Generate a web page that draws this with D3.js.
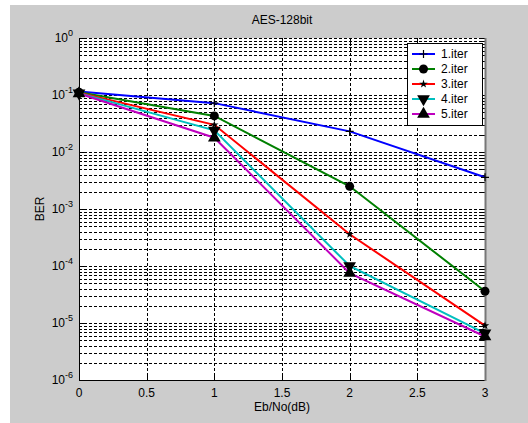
<!DOCTYPE html>
<html>
<head>
<meta charset="utf-8">
<script src="https://cdn.jsdelivr.net/npm/d3@7"></script>
<style>
  body { margin: 0; background: #fff; }
  text { font-family: Arial, "Liberation Sans", sans-serif; }
</style>
</head>
<body>
<div id="chart"></div>
<script>
const ebno = [0, 1, 2, 3];
const iter1 = [0.115, 0.072, 0.023, 0.0036];
const iter2 = [0.112, 0.043, 0.0025, 0.000036];
const iter3 = [0.11, 0.03, 0.00036, 0.000009];
const iter4 = [0.108, 0.024, 0.0001, 0.0000066];
const iter5 = [0.106, 0.0178, 0.000075, 0.0000058];
const seriesNames = ["1.iter", "2.iter", "3.iter", "4.iter", "5.iter"];
const seriesColors = ["#0000ff", "#008000", "#ff0000", "#00bfbf", "#bf00bf"];
const seriesMarkers = ["plus", "circle", "star", "down", "up"];
const xTicks = [0, 0.5, 1, 1.5, 2, 2.5, 3];
const yDecades = [0, -1, -2, -3, -4, -5, -6];

const width = 528, height = 423;
const margin = { top: 38, right: 43, bottom: 43, left: 79 };

const svg = d3.select("#chart").append("svg").attr("width", width).attr("height", height);

svg.append("rect").attr("x", 10).attr("y", 5).attr("width", width - 10).attr("height", height - 5).attr("fill", "#cccccc");

const x = d3.scaleLinear().domain([0, 3]).range([margin.left, width - margin.right]);
const y = d3.scaleLog().domain([1e-6, 1]).range([height - margin.bottom, margin.top]);

svg.append("rect")
    .attr("x", x(0)).attr("y", y(1))
    .attr("width", x(3) - x(0)).attr("height", y(1e-6) - y(1))
    .attr("fill", "#fff");

// grid lines: all log ticks horizontally, major x vertically
const yGrid = [];
for (let e = -6; e < 0; e++) {
    for (let m = 1; m < 10; m++) yGrid.push(m * Math.pow(10, e));
}
yGrid.push(1);

svg.append("g").selectAll("line")
    .data(yGrid.filter(v => v > 1e-6))
    .join("line")
    .attr("x1", x(0)).attr("x2", x(3))
    .attr("y1", d => Math.round(y(d)) + 0.5).attr("y2", d => Math.round(y(d)) + 0.5)
    .attr("stroke", "#000").attr("stroke-width", 1).attr("stroke-dasharray", "3,2");

svg.append("g").selectAll("line")
    .data(xTicks.filter(v => v > 0 && v < 3))
    .join("line")
    .attr("x1", d => Math.round(x(d)) + 0.5).attr("x2", d => Math.round(x(d)) + 0.5)
    .attr("y1", y(1)).attr("y2", y(1e-6))
    .attr("stroke", "#000").attr("stroke-width", 1).attr("stroke-dasharray", "3,2");

// inward ticks
const tickG = svg.append("g").attr("stroke", "#000");
xTicks.forEach(t => {
    const px = Math.round(x(t)) + 0.5;
    tickG.append("line").attr("x1", px).attr("x2", px).attr("y1", y(1e-6)).attr("y2", y(1e-6) - 5);
    tickG.append("line").attr("x1", px).attr("x2", px).attr("y1", y(1)).attr("y2", y(1) + 5);
});
yGrid.forEach(v => {
    const py = Math.round(y(v)) + 0.5;
    const len = Number.isInteger(Math.log10(v)) ? 5 : 3;
    tickG.append("line").attr("x1", x(0)).attr("x2", x(0) + len).attr("y1", py).attr("y2", py);
    tickG.append("line").attr("x1", x(3)).attr("x2", x(3) - len).attr("y1", py).attr("y2", py);
});

// axes box
svg.append("line").attr("x1", x(0) + 0.5).attr("x2", x(0) + 0.5).attr("y1", y(1)).attr("y2", y(1e-6) + 1).attr("stroke", "#000");
svg.append("line").attr("x1", x(0)).attr("x2", x(3) + 1).attr("y1", y(1e-6) + 0.5).attr("y2", y(1e-6) + 0.5).attr("stroke", "#000");
svg.append("line").attr("x1", x(3) + 0.5).attr("x2", x(3) + 0.5).attr("y1", y(1)).attr("y2", y(1e-6) + 1).attr("stroke", "#777").attr("stroke-width", 2);

// tick labels
svg.append("g").selectAll("text")
    .data(xTicks)
    .join("text")
    .attr("x", d => x(d)).attr("y", y(1e-6) + 17)
    .attr("text-anchor", "middle").attr("font-size", 12).attr("fill", "#000")
    .text(d => d);

const yLab = svg.append("g").selectAll("text")
    .data(yDecades)
    .join("text")
    .attr("x", x(0) - 6).attr("y", d => y(Math.pow(10, d)) + 4)
    .attr("text-anchor", "end").attr("font-size", 12).attr("fill", "#000");
yLab.append("tspan").text("10");
yLab.append("tspan").attr("dy", -6).attr("font-size", 9).text(d => d);

svg.append("text").attr("x", (x(0) + x(3)) / 2).attr("y", 24)
    .attr("text-anchor", "middle").attr("font-size", 12).text("AES-128bit");
svg.append("text").attr("x", (x(0) + x(3)) / 2).attr("y", 411)
    .attr("text-anchor", "middle").attr("font-size", 12).text("Eb/No(dB)");
svg.append("text").attr("transform", `translate(44, ${(y(1) + y(1e-6)) / 2}) rotate(-90)`)
    .attr("text-anchor", "middle").attr("font-size", 12).text("BER");

const allSeries = [iter1, iter2, iter3, iter4, iter5];

function drawMarker(g, type, cx, cy) {
    if (type === "plus") {
        g.append("path").attr("d", `M${cx - 4},${cy}H${cx + 4}M${cx},${cy - 4}V${cy + 4}`)
            .attr("stroke", "#000").attr("stroke-width", 1.2).attr("fill", "none");
    } else if (type === "circle") {
        g.append("circle").attr("cx", cx).attr("cy", cy).attr("r", 4.5).attr("fill", "#000");
    } else if (type === "star") {
        g.append("path").attr("d", d3.symbol().type(d3.symbolStar).size(22)())
            .attr("transform", `translate(${cx},${cy})`).attr("fill", "#000");
    } else if (type === "down") {
        g.append("path").attr("d", d3.symbol().type(d3.symbolTriangle).size(70)())
            .attr("transform", `translate(${cx},${cy}) rotate(180)`).attr("fill", "#000");
    } else {
        g.append("path").attr("d", d3.symbol().type(d3.symbolTriangle).size(70)())
            .attr("transform", `translate(${cx},${cy})`).attr("fill", "#000");
    }
}

const line = d3.line().x((d, i) => x(ebno[i])).y(d => y(d));
allSeries.forEach((s, k) => {
    svg.append("path").datum(s).attr("d", line)
        .attr("fill", "none").attr("stroke", seriesColors[k]).attr("stroke-width", 2);
});
allSeries.forEach((s, k) => {
    const g = svg.append("g");
    s.forEach((v, i) => drawMarker(g, seriesMarkers[k], x(ebno[i]), y(v)));
});

// legend
const lg = svg.append("g").attr("transform", "translate(407,43)");
lg.append("rect").attr("x", 0.5).attr("y", 0.5).attr("width", 75).attr("height", 82)
    .attr("fill", "#fff").attr("stroke", "#000");
seriesNames.forEach((name, k) => {
    const ly = 11 + k * 15;
    lg.append("line").attr("x1", 5).attr("x2", 28).attr("y1", ly).attr("y2", ly)
        .attr("stroke", seriesColors[k]).attr("stroke-width", 2);
    drawMarker(lg, seriesMarkers[k], 16.5, ly);
    lg.append("text").attr("x", 34).attr("y", ly + 4).attr("font-size", 12).text(name);
});
</script>
</body>
</html>
